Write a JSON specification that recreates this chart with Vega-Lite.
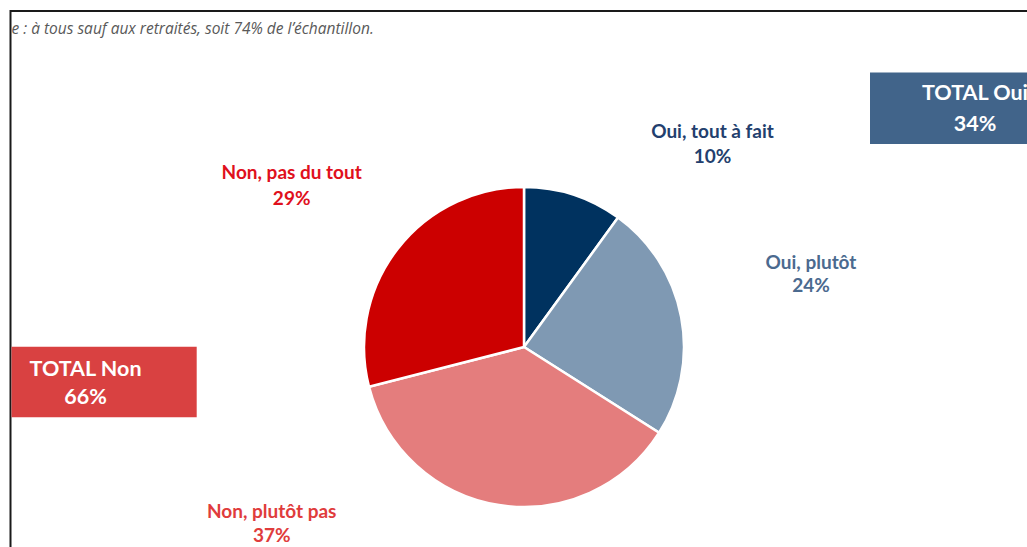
{
  "$schema": "https://vega.github.io/schema/vega-lite/v6.json",
  "width": 1006,
  "height": 400,
  "autosize": {"type": "none"},
  "padding": {"left": 21, "top": 147, "right": 0, "bottom": 0},
  "background": "white",
  "config": {"view": {"stroke": null}},
  "datasets": {
    "answers": [
      {"rank": 1, "cat": "Oui, tout à fait", "group": "Oui", "value": 0.10},
      {"rank": 2, "cat": "Oui, plutôt", "group": "Oui", "value": 0.24},
      {"rank": 3, "cat": "Non, plutôt pas", "group": "Non", "value": 0.37},
      {"rank": 4, "cat": "Non, pas du tout", "group": "Non", "value": 0.29}
    ],
    "note": [
      {"text": "e : à tous sauf aux retraités, soit 74% de l’échantillon."}
    ]
  },
  "data": {"name": "answers"},
  "layer": [
    {
      "data": {"name": "note"},
      "mark": {"type": "rule", "color": "#1a1a1a", "strokeWidth": 2},
      "encoding": {"x": {"value": -11}, "x2": {"value": 1010}, "y": {"value": -136}}
    },
    {
      "data": {"name": "note"},
      "mark": {"type": "rule", "color": "#1a1a1a", "strokeWidth": 2},
      "encoding": {"x": {"value": -10.5}, "y": {"value": -137}, "y2": {"value": 410}}
    },
    {
      "data": {"name": "note"},
      "mark": {"type": "text", "align": "left", "baseline": "alphabetic", "font": "Open Sans", "fontStyle": "italic", "fontSize": 15.5, "color": "#595959"},
      "encoding": {"x": {"value": -9.5}, "y": {"value": -113.5}, "text": {"field": "text", "type": "nominal"}}
    },
    {
      "data": {"name": "note"},
      "mark": {"type": "rect", "color": "#41648a"},
      "encoding": {"x": {"value": 849}, "x2": {"value": 1060}, "y": {"value": -74.5}, "y2": {"value": -3}}
    },
    {
      "data": {"name": "note"},
      "mark": {"type": "rect", "color": "#d94141"},
      "encoding": {"x": {"value": -9.5}, "x2": {"value": 175.7}, "y": {"value": 199.7}, "y2": {"value": 270.3}}
    },
    {
      "transform": [
        {"filter": "datum.group === 'Oui'"},
        {"aggregate": [{"op": "sum", "field": "value", "as": "total"}], "groupby": ["group"]}
      ],
      "mark": {"type": "text", "text": "TOTAL Oui", "align": "center", "baseline": "alphabetic", "font": "Lato", "fontWeight": "bold", "fontSize": 21.5, "color": "white"},
      "encoding": {"x": {"value": 954}, "y": {"value": -47}}
    },
    {
      "transform": [
        {"filter": "datum.group === 'Oui'"},
        {"aggregate": [{"op": "sum", "field": "value", "as": "total"}], "groupby": ["group"]}
      ],
      "mark": {"type": "text", "align": "center", "baseline": "alphabetic", "font": "Lato", "fontWeight": "bold", "fontSize": 21.5, "color": "white"},
      "encoding": {"x": {"value": 954}, "y": {"value": -16}, "text": {"field": "total", "type": "quantitative", "format": ".0%"}}
    },
    {
      "transform": [
        {"filter": "datum.group === 'Non'"},
        {"aggregate": [{"op": "sum", "field": "value", "as": "total"}], "groupby": ["group"]}
      ],
      "mark": {"type": "text", "text": "TOTAL Non", "align": "center", "baseline": "alphabetic", "font": "Lato", "fontWeight": "bold", "fontSize": 21.5, "color": "white"},
      "encoding": {"x": {"value": 64.5}, "y": {"value": 229}}
    },
    {
      "transform": [
        {"filter": "datum.group === 'Non'"},
        {"aggregate": [{"op": "sum", "field": "value", "as": "total"}], "groupby": ["group"]}
      ],
      "mark": {"type": "text", "align": "center", "baseline": "alphabetic", "font": "Lato", "fontWeight": "bold", "fontSize": 21.5, "color": "white"},
      "encoding": {"x": {"value": 64.5}, "y": {"value": 257}, "text": {"field": "total", "type": "quantitative", "format": ".0%"}}
    },
    {
      "mark": {"type": "arc", "outerRadius": 160, "stroke": "white", "strokeWidth": 2.5},
      "encoding": {
        "theta": {"field": "value", "type": "quantitative", "stack": true},
        "order": {"field": "rank", "type": "quantitative"},
        "color": {
          "field": "cat", "type": "nominal", "legend": null,
          "scale": {
            "domain": ["Oui, tout à fait", "Oui, plutôt", "Non, plutôt pas", "Non, pas du tout"],
            "range": ["#00325f", "#7f99b3", "#e47d7d", "#cc0000"]
          }
        }
      }
    },
    {
      "mark": {"type": "text", "radius": 170, "dx": 136, "dy": -47.8, "align": "center", "baseline": "alphabetic", "font": "Lato", "fontWeight": "bold", "fontSize": 19, "color": "#233f6e"},
      "encoding": {
        "theta": {"field": "value", "type": "quantitative", "stack": true},
        "order": {"field": "rank", "type": "quantitative"},
        "detail": {"field": "cat", "type": "nominal"},
        "text": {"condition": {"test": "datum.rank === 1", "field": "cat", "type": "nominal"}, "value": ""}
      }
    },
    {
      "mark": {"type": "text", "radius": 170, "dx": 136, "dy": -22.3, "align": "center", "baseline": "alphabetic", "font": "Lato", "fontWeight": "bold", "fontSize": 19, "color": "#233f6e"},
      "encoding": {
        "theta": {"field": "value", "type": "quantitative", "stack": true},
        "order": {"field": "rank", "type": "quantitative"},
        "detail": {"field": "cat", "type": "nominal"},
        "text": {"condition": {"test": "datum.rank === 1", "field": "value", "type": "quantitative", "format": ".0%"}, "value": ""}
      }
    },
    {
      "mark": {"type": "text", "radius": 170, "dx": 120, "dy": -46.6, "align": "center", "baseline": "alphabetic", "font": "Lato", "fontWeight": "bold", "fontSize": 19, "color": "#4b6a8f"},
      "encoding": {
        "theta": {"field": "value", "type": "quantitative", "stack": true},
        "order": {"field": "rank", "type": "quantitative"},
        "detail": {"field": "cat", "type": "nominal"},
        "text": {"condition": {"test": "datum.rank === 2", "field": "cat", "type": "nominal"}, "value": ""}
      }
    },
    {
      "mark": {"type": "text", "radius": 170, "dx": 120, "dy": -23.1, "align": "center", "baseline": "alphabetic", "font": "Lato", "fontWeight": "bold", "fontSize": 19, "color": "#4b6a8f"},
      "encoding": {
        "theta": {"field": "value", "type": "quantitative", "stack": true},
        "order": {"field": "rank", "type": "quantitative"},
        "detail": {"field": "cat", "type": "nominal"},
        "text": {"condition": {"test": "datum.rank === 2", "field": "value", "type": "quantitative", "format": ".0%"}, "value": ""}
      }
    },
    {
      "mark": {"type": "text", "radius": 170, "dx": -225.7, "dy": 3.5, "align": "center", "baseline": "alphabetic", "font": "Lato", "fontWeight": "bold", "fontSize": 19, "color": "#e03c3c"},
      "encoding": {
        "theta": {"field": "value", "type": "quantitative", "stack": true},
        "order": {"field": "rank", "type": "quantitative"},
        "detail": {"field": "cat", "type": "nominal"},
        "text": {"condition": {"test": "datum.rank === 3", "field": "cat", "type": "nominal"}, "value": ""}
      }
    },
    {
      "mark": {"type": "text", "radius": 170, "dx": -225.7, "dy": 27, "align": "center", "baseline": "alphabetic", "font": "Lato", "fontWeight": "bold", "fontSize": 19, "color": "#e03c3c"},
      "encoding": {
        "theta": {"field": "value", "type": "quantitative", "stack": true},
        "order": {"field": "rank", "type": "quantitative"},
        "detail": {"field": "cat", "type": "nominal"},
        "text": {"condition": {"test": "datum.rank === 3", "field": "value", "type": "quantitative", "format": ".0%"}, "value": ""}
      }
    },
    {
      "mark": {"type": "text", "radius": 170, "dx": -98, "dy": -63.8, "align": "center", "baseline": "alphabetic", "font": "Lato", "fontWeight": "bold", "fontSize": 19, "color": "#e0101c"},
      "encoding": {
        "theta": {"field": "value", "type": "quantitative", "stack": true},
        "order": {"field": "rank", "type": "quantitative"},
        "detail": {"field": "cat", "type": "nominal"},
        "text": {"condition": {"test": "datum.rank === 4", "field": "cat", "type": "nominal"}, "value": ""}
      }
    },
    {
      "mark": {"type": "text", "radius": 170, "dx": -98, "dy": -37.8, "align": "center", "baseline": "alphabetic", "font": "Lato", "fontWeight": "bold", "fontSize": 19, "color": "#e0101c"},
      "encoding": {
        "theta": {"field": "value", "type": "quantitative", "stack": true},
        "order": {"field": "rank", "type": "quantitative"},
        "detail": {"field": "cat", "type": "nominal"},
        "text": {"condition": {"test": "datum.rank === 4", "field": "value", "type": "quantitative", "format": ".0%"}, "value": ""}
      }
    }
  ]
}
